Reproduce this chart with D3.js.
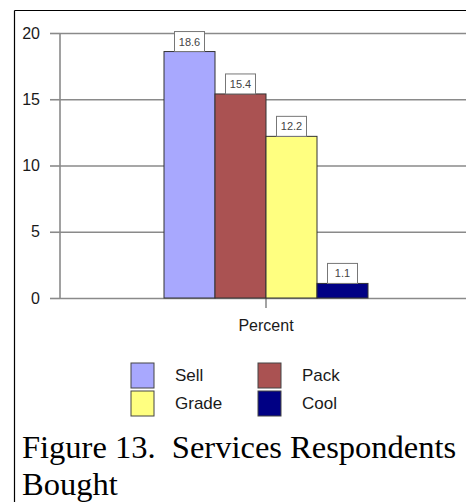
<!DOCTYPE html>
<html>
<head>
<meta charset="utf-8">
<script src="https://cdn.jsdelivr.net/npm/d3@7"></script>
<style>
  html, body { margin: 0; padding: 0; background: #fff; }
  svg { display: block; }
</style>
</head>
<body>
<svg id="chart" width="466" height="502"></svg>
<script>
// Services bought by respondents, percent
const categories = ["Percent"];
const seriesNames = ["Sell", "Pack", "Grade", "Cool"];
const seriesValues = [18.6, 15.4, 12.2, 1.1];
const seriesColors = ["#a8a8fe", "#aa5252", "#ffff80", "#000084"];
const yTicks = [0, 5, 10, 15, 20];
const captionLines = ["Figure 13.\u00a0 Services Respondents", "Bought"];

const svg = d3.select("#chart");
const sans = "'Liberation Sans', Arial, sans-serif";

// frame around the figure
svg.append("line").attr("x1", 14.5).attr("x2", 466).attr("y1", 10.5).attr("y2", 10.5)
  .attr("stroke", "#000").attr("stroke-width", 1.2);
svg.append("line").attr("x1", 14.5).attr("x2", 14.5).attr("y1", 10.5).attr("y2", 502)
  .attr("stroke", "#000").attr("stroke-width", 1.2);

const plotLeft = 60, plotRight = 472, plotTop = 33, plotBottom = 298;

const y = d3.scaleLinear().domain([0, 20]).range([plotBottom, plotTop]);
const x0 = d3.scaleBand().domain(categories).range([plotLeft, plotRight]);
const groupWidth = 204;

// horizontal gridlines with left tick marks
const yAxis = d3.axisLeft(y).tickValues(yTicks).tickSize(-(plotRight - plotLeft)).tickPadding(14)
  .tickFormat(d3.format("d"));
const gy = svg.append("g").attr("transform", `translate(${plotLeft},0)`).call(yAxis);
gy.select(".domain").remove();
gy.selectAll(".tick line").attr("stroke", "#8a8a8a").attr("stroke-width", 1.6);
gy.selectAll(".tick").append("line")
  .attr("x1", -10).attr("x2", 0).attr("stroke", "#8a8a8a").attr("stroke-width", 1.6);
gy.selectAll(".tick text").attr("font-family", sans).attr("font-size", 16)
  .attr("fill", "#1a1a1a").attr("x", -20);

// vertical axis line
svg.append("line").attr("x1", plotLeft).attr("x2", plotLeft).attr("y1", plotTop).attr("y2", plotBottom)
  .attr("stroke", "#8a8a8a").attr("stroke-width", 1.6);

// category axis
const xAxis = d3.axisBottom(x0).tickSize(10).tickPadding(8);
const gx = svg.append("g").attr("transform", `translate(0,${plotBottom})`).call(xAxis);
gx.select(".domain").remove();
gx.selectAll(".tick line").attr("stroke", "#666").attr("stroke-width", 1.2);
gx.selectAll(".tick text").attr("font-family", sans).attr("font-size", 16).attr("fill", "#1a1a1a")
  .attr("dy", "0.95em");

categories.forEach(cat => {
  const center = x0(cat) + x0.bandwidth() / 2;
  const x1 = d3.scaleBand().domain(seriesNames)
    .range([center - groupWidth / 2, center + groupWidth / 2]);
  const data = seriesNames.map((s, i) => ({ name: s, value: seriesValues[i], color: seriesColors[i] }));

  svg.append("g").selectAll("rect").data(data).join("rect")
    .attr("x", d => x1(d.name))
    .attr("y", d => y(d.value))
    .attr("width", x1.bandwidth())
    .attr("height", d => y(0) - y(d.value))
    .attr("fill", d => d.color)
    .attr("stroke", "#333")
    .attr("stroke-width", 1);

  // value labels in boxes
  const lab = svg.append("g").selectAll("g").data(data).join("g")
    .attr("transform", d => `translate(${x1(d.name) + x1.bandwidth() / 2},${y(d.value)})`);
  lab.append("rect")
    .attr("x", -15).attr("y", -20).attr("width", 30).attr("height", 20)
    .attr("fill", "#fff").attr("stroke", "#777").attr("stroke-width", 1);
  lab.append("text")
    .attr("y", -6).attr("text-anchor", "middle")
    .attr("font-family", sans).attr("font-size", 11).attr("fill", "#444")
    .text(d => d.value);
});

// legend, two columns
const legend = svg.append("g");
const legItems = legend.selectAll("g").data(seriesNames).join("g")
  .attr("transform", (d, i) => `translate(${131 + (i % 2) * 127},${363 + Math.floor(i / 2) * 28})`);
legItems.append("rect")
  .attr("width", 23).attr("height", 25)
  .attr("fill", (d, i) => seriesColors[i]).attr("stroke", "#444").attr("stroke-width", 1);
legItems.append("text")
  .attr("x", 44).attr("y", 18)
  .attr("font-family", sans).attr("font-size", 17).attr("fill", "#1a1a1a")
  .text(d => d);

// caption
svg.append("g").selectAll("text").data(captionLines).join("text")
  .attr("x", 22).attr("y", (d, i) => 458 + i * 37)
  .attr("font-family", "'Liberation Serif', 'Times New Roman', serif")
  .attr("font-size", 32.5).attr("fill", "#000")
  .style("white-space", "pre")
  .text(d => d);
</script>
</body>
</html>
